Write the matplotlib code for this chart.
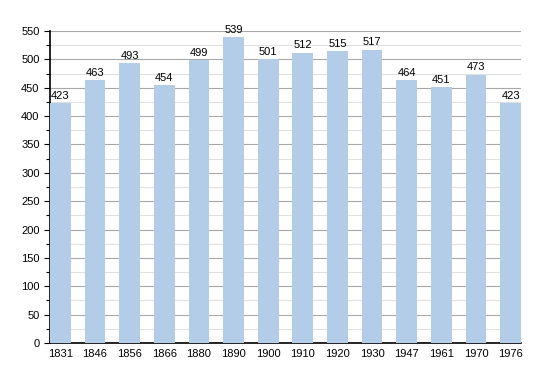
import numpy as np
import matplotlib.pyplot as plt
from matplotlib.ticker import MultipleLocator

plt.rcParams['font.family'] = ['Liberation Sans', 'DejaVu Sans']

years = ['1831', '1846', '1856', '1866', '1880', '1890', '1900', '1910', '1920', '1930', '1947', '1961', '1970', '1976']
population = [423, 463, 493, 454, 499, 539, 501, 512, 515, 517, 464, 451, 473, 423]

fig = plt.figure(figsize=(5.5, 3.73), dpi=100)
ax = fig.add_axes([50 / 550, 30 / 373, 471 / 550, 312 / 373])

x = np.arange(len(years))
ax.bar(x, population, width=0.6, color='#b3cde8', zorder=3)
for xi, v in zip(x, population):
    ax.text(xi, v + 4, str(v), ha='center', va='bottom', fontsize=8, zorder=4)

ax.set_xlim(-0.3, len(years) - 0.7)
ax.set_ylim(0, 550)
ax.set_xticks(x)
ax.set_xticklabels(years, fontsize=8)
ax.yaxis.set_major_locator(MultipleLocator(50))
ax.yaxis.set_minor_locator(MultipleLocator(25))
ax.tick_params(axis='y', labelsize=8, length=4, width=0.8)
ax.tick_params(axis='y', which='minor', length=3, width=0.8)
ax.tick_params(axis='x', length=0, pad=4)
ax.grid(axis='y', which='major', color='#a8a8a8', linewidth=0.8, zorder=0)
ax.grid(axis='y', which='minor', color='#e0e0e0', linewidth=0.8, zorder=0)
for side in ['top', 'right']:
    ax.spines[side].set_visible(False)
ax.spines['left'].set_linewidth(1.2)
ax.spines['bottom'].set_linewidth(1.2)

plt.savefig('out.png', dpi=100)
